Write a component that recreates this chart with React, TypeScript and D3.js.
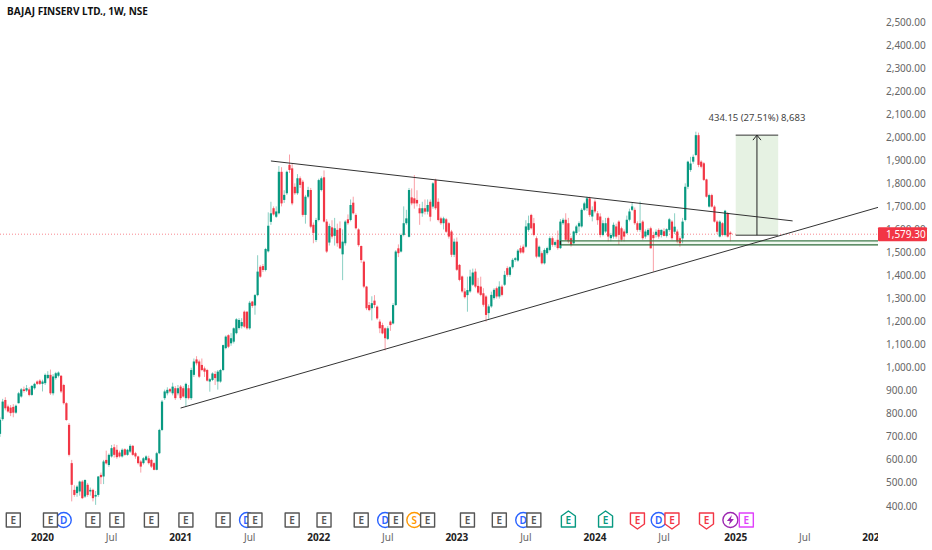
import React from "react";
import * as d3 from "d3";

const WIDTH = 932;
const HEIGHT = 550;
const PLOT_RIGHT = 878;

const UP = "#089981";
const DOWN = "#f23645";

// weekly bars as [open, high, low, close]
const candles2019 = [
  [713, 785, 700, 774], [777, 865, 770, 853], [860, 872, 815, 824], [832, 840, 805, 810],
  [827, 838, 790, 803], [830, 842, 785, 805], [805, 840, 800, 835], [846, 895, 845, 889],
  [875, 912, 870, 906], [906, 918, 892, 899], [901, 925, 895, 911], [906, 915, 876, 882],
  [882, 925, 878, 921], [911, 935, 905, 930], [940, 945, 925, 930], [944, 950, 925, 930],
];
const candles2020 = [
  [930, 948, 897, 940], [933, 975, 925, 969], [955, 985, 950, 969], [969, 992, 882, 889],
  [889, 972, 880, 962], [955, 982, 948, 976], [965, 984, 958, 979], [965, 968, 890, 897],
  [925, 930, 840, 846], [846, 850, 770, 773], [752, 760, 615, 622], [586, 600, 420, 492],
  [470, 490, 440, 448], [456, 490, 440, 484], [463, 510, 445, 506], [506, 512, 430, 434],
  [441, 515, 435, 513], [492, 500, 440, 448], [463, 480, 445, 470], [470, 475, 420, 434],
  [441, 465, 405, 448], [448, 530, 440, 528], [535, 545, 495, 525], [528, 600, 495, 593],
  [600, 640, 580, 585], [578, 628, 570, 622], [615, 665, 610, 651], [655, 668, 610, 622],
  [644, 665, 605, 612], [632, 640, 610, 615], [615, 650, 610, 644], [646, 650, 618, 622],
  [622, 648, 618, 644], [636, 668, 630, 661], [661, 665, 618, 622], [629, 635, 605, 615],
  [615, 618, 580, 586], [593, 600, 545, 571], [586, 612, 580, 607], [600, 620, 595, 615],
  [607, 618, 580, 586], [600, 605, 565, 571], [586, 590, 555, 557], [557, 635, 555, 629],
  [629, 735, 625, 730], [730, 860, 725, 853], [868, 905, 860, 897], [889, 915, 880, 904],
  [907, 912, 890, 897], [889, 935, 880, 918], [911, 920, 860, 868], [889, 925, 880, 911],
];
const candles2021 = [
  [918, 925, 860, 868], [911, 920, 870, 875], [868, 935, 830, 930], [911, 925, 862, 868],
  [868, 1000, 860, 990], [969, 1040, 960, 1027], [1036, 1050, 1010, 1019], [1027, 1035, 955, 961],
  [1012, 1040, 985, 990], [997, 1005, 960, 983], [990, 995, 940, 944], [940, 955, 896, 950],
  [947, 980, 942, 975], [973, 985, 925, 955], [940, 990, 905, 983], [940, 995, 935, 990],
  [990, 1100, 985, 1098], [1085, 1140, 1080, 1135], [1141, 1145, 1085, 1091], [1106, 1150, 1095, 1128],
  [1113, 1175, 1105, 1171], [1150, 1215, 1145, 1210], [1172, 1215, 1165, 1207], [1180, 1215, 1170, 1198],
  [1243, 1248, 1172, 1178], [1243, 1245, 1165, 1171], [1171, 1290, 1165, 1282], [1287, 1290, 1260, 1268],
  [1270, 1320, 1230, 1315], [1315, 1488, 1310, 1417], [1438, 1445, 1390, 1395], [1441, 1450, 1415, 1424],
  [1424, 1520, 1418, 1515], [1505, 1674, 1500, 1616], [1633, 1720, 1620, 1670], [1692, 1700, 1660, 1665],
  [1655, 1700, 1650, 1678], [1670, 1875, 1665, 1850], [1850, 1870, 1700, 1713], [1728, 1770, 1715, 1750],
  [1757, 1855, 1750, 1850], [1880, 1925, 1845, 1858], [1865, 1888, 1705, 1713], [1785, 1800, 1750, 1757],
  [1757, 1840, 1750, 1822], [1822, 1830, 1780, 1793], [1807, 1815, 1655, 1663], [1663, 1750, 1625, 1742],
  [1742, 1785, 1735, 1771], [1771, 1780, 1605, 1612], [1620, 1630, 1540, 1585], [1554, 1650, 1545, 1641],
];
const candles2022 = [
  [1641, 1820, 1635, 1814], [1771, 1830, 1765, 1822], [1826, 1856, 1630, 1634], [1634, 1645, 1498, 1504],
  [1543, 1625, 1530, 1615], [1609, 1640, 1560, 1569], [1572, 1650, 1530, 1605], [1598, 1625, 1525, 1540],
  [1605, 1635, 1515, 1518], [1492, 1600, 1380, 1547], [1540, 1640, 1530, 1634], [1644, 1665, 1620, 1627],
  [1641, 1730, 1635, 1706], [1716, 1742, 1665, 1670], [1663, 1670, 1600, 1605], [1600, 1605, 1525, 1532],
  [1528, 1530, 1455, 1467], [1460, 1465, 1345, 1352], [1352, 1355, 1250, 1258], [1272, 1285, 1245, 1250],
  [1258, 1310, 1205, 1280], [1291, 1315, 1260, 1272], [1265, 1270, 1208, 1214], [1200, 1210, 1150, 1171],
  [1185, 1195, 1145, 1149], [1171, 1175, 1075, 1128], [1125, 1180, 1120, 1171], [1200, 1205, 1160, 1185],
  [1192, 1280, 1188, 1272], [1272, 1510, 1268, 1504], [1518, 1535, 1480, 1497], [1504, 1582, 1500, 1576],
  [1576, 1700, 1570, 1627], [1627, 1685, 1620, 1648], [1568, 1780, 1565, 1771], [1739, 1778, 1705, 1713],
  [1735, 1836, 1690, 1713], [1728, 1770, 1700, 1713], [1692, 1710, 1620, 1670], [1670, 1720, 1655, 1692],
  [1692, 1730, 1665, 1677], [1677, 1730, 1665, 1706], [1720, 1730, 1635, 1655], [1699, 1805, 1690, 1800],
  [1814, 1820, 1685, 1692], [1720, 1735, 1635, 1641], [1648, 1655, 1620, 1627], [1627, 1655, 1600, 1648],
  [1644, 1650, 1585, 1590], [1627, 1632, 1560, 1569], [1591, 1598, 1480, 1490], [1490, 1560, 1480, 1547],
];
const candles2023 = [
  [1547, 1565, 1420, 1425], [1446, 1450, 1375, 1381], [1396, 1400, 1325, 1331], [1331, 1345, 1300, 1306],
  [1315, 1395, 1243, 1337], [1331, 1425, 1325, 1396], [1360, 1430, 1355, 1413], [1417, 1430, 1345, 1352],
  [1355, 1390, 1320, 1326], [1352, 1395, 1310, 1316], [1323, 1345, 1265, 1273], [1309, 1315, 1200, 1229],
  [1237, 1275, 1212, 1266], [1266, 1330, 1260, 1316], [1302, 1345, 1295, 1338], [1345, 1352, 1300, 1309],
  [1309, 1375, 1300, 1352], [1352, 1360, 1310, 1316], [1360, 1420, 1355, 1403], [1432, 1440, 1395, 1403],
  [1403, 1440, 1395, 1436], [1436, 1475, 1430, 1468], [1468, 1480, 1460, 1475], [1465, 1515, 1460, 1508],
  [1519, 1530, 1495, 1500], [1525, 1535, 1495, 1500], [1525, 1640, 1520, 1613], [1598, 1660, 1590, 1627],
  [1663, 1668, 1600, 1605], [1627, 1650, 1570, 1576], [1562, 1570, 1475, 1482], [1482, 1530, 1478, 1525],
  [1497, 1505, 1448, 1453], [1453, 1518, 1448, 1511], [1497, 1525, 1490, 1519], [1511, 1570, 1505, 1562],
  [1562, 1570, 1525, 1533], [1533, 1552, 1525, 1545], [1555, 1595, 1512, 1519], [1519, 1645, 1515, 1634],
  [1627, 1650, 1620, 1642], [1642, 1670, 1550, 1555], [1627, 1650, 1540, 1548], [1562, 1570, 1525, 1533],
  [1540, 1595, 1535, 1591], [1584, 1620, 1575, 1613], [1613, 1635, 1590, 1627], [1613, 1692, 1608, 1685],
  [1685, 1720, 1680, 1713], [1692, 1742, 1680, 1735], [1735, 1742, 1655, 1663], [1656, 1700, 1635, 1685],
];
const candles2024 = [
  [1721, 1730, 1670, 1678], [1670, 1680, 1620, 1640], [1656, 1670, 1565, 1576], [1576, 1640, 1570, 1627],
  [1591, 1650, 1585, 1627], [1649, 1655, 1548, 1569], [1562, 1585, 1548, 1576], [1569, 1630, 1560, 1620],
  [1613, 1625, 1560, 1569], [1634, 1640, 1533, 1576], [1605, 1612, 1548, 1555], [1591, 1600, 1548, 1569],
  [1584, 1660, 1580, 1642], [1642, 1690, 1635, 1678], [1685, 1715, 1680, 1700], [1685, 1695, 1620, 1627],
  [1627, 1635, 1590, 1598], [1598, 1721, 1590, 1627], [1634, 1640, 1555, 1562], [1569, 1600, 1560, 1591],
  [1576, 1605, 1570, 1598], [1605, 1612, 1518, 1518], [1576, 1590, 1417, 1562], [1576, 1600, 1565, 1590],
  [1598, 1605, 1560, 1569], [1576, 1600, 1565, 1598], [1592, 1605, 1570, 1572], [1572, 1605, 1565, 1601],
  [1598, 1650, 1590, 1644], [1634, 1640, 1555, 1562], [1590, 1670, 1580, 1612], [1591, 1600, 1540, 1548],
  [1562, 1570, 1525, 1540], [1561, 1650, 1540, 1634], [1641, 1800, 1635, 1785], [1785, 1898, 1775, 1894],
  [1858, 1915, 1850, 1886], [1894, 1925, 1885, 1915], [1923, 2024, 1918, 2009], [2009, 2020, 1870, 1880],
  [1894, 1900, 1865, 1872], [1887, 1892, 1810, 1815], [1817, 1820, 1738, 1742], [1699, 1755, 1695, 1749],
  [1749, 1755, 1695, 1699], [1699, 1705, 1630, 1634], [1634, 1640, 1580, 1590], [1569, 1640, 1565, 1634],
  [1627, 1632, 1570, 1576], [1576, 1685, 1570, 1681], [1670, 1675, 1565, 1569], [1586, 1592, 1548, 1579.3],
];

const firstWeek = new Date(2019, 8, 16);
const lastPrice = 1579.3;
const priceTicks = [
  400, 500, 600, 700, 800, 900, 1000, 1100, 1200, 1300, 1400, 1500, 1600, 1700, 1800, 1900, 2000,
  2100, 2200, 2300, 2400, 2500,
];
const timeLabels: [number, number, string][] = [
  [2020, 0, "2020"], [2020, 6, "Jul"], [2021, 0, "2021"], [2021, 6, "Jul"], [2022, 0, "2022"],
  [2022, 6, "Jul"], [2023, 0, "2023"], [2023, 6, "Jul"], [2024, 0, "2024"], [2024, 6, "Jul"],
  [2025, 0, "2025"], [2025, 6, "Jul"], [2026, 0, "2026"],
];

// chart events, by week number counted from the first bar
const earningsPlain = [5, 19, 35, 44, 57, 70, 84, 96, 110, 122, 136, 149, 161, 176, 188, 201];
const earningsBeat = [214, 228];
const earningsMiss = [240, 253, 266];
const earningsNext = [281];
const dividends = [24, 93, 145, 197, 248];
const splits = [156];
const newsFlags = [275];

// drawings: [date, price]
const upperTrend: [Date, number][] = [[new Date(2021, 7, 30), 1897], [new Date(2025, 5, 5), 1637]];
const lowerTrend: [Date, number][] = [[new Date(2021, 0, 4), 825], [new Date(2026, 0, 19), 1697]];
const supportZone = { start: new Date(2023, 9, 2), top: 1550, bottom: 1533 };
const longStart = new Date(2025, 0, 6);
const longEnd = new Date(2025, 3, 28);
const longEntry = 1575;
const longTarget = 2009.15;

const candles = [
  ...candles2019, ...candles2020, ...candles2021, ...candles2022, ...candles2023, ...candles2024,
];

const weekDate = (i: number) => d3.timeWeek.offset(firstWeek, i);

const x = d3
  .scaleTime()
  .domain([new Date(2020, 0, 6), new Date(2025, 0, 6)])
  .range([42.5, 735.7]);
const y = d3.scaleLinear().domain([400, 2500]).range([506, 22]);

const priceFormat = d3.format(",.2f");
const trendLine = d3
  .line<[Date, number]>()
  .x((d) => x(d[0]))
  .y((d) => y(d[1]));

const FONT = "'Noto Sans', 'Open Sans', sans-serif";

function EarningsBadge({ week, color, shape }: { week: number; color: string; shape: string }) {
  const cx = x(weekDate(week));
  const s = 7;
  let d = `M${-s},${-s}H${s}V${s}H${-s}Z`;
  if (shape === "up") d = `M${-s},${-s + 3}L0,${-s - 2}L${s},${-s + 3}V${s}H${-s}Z`;
  if (shape === "down") d = `M${-s},${-s}H${s}V${s - 3}L0,${s + 2}L${-s},${s - 3}Z`;
  return (
    <g transform={`translate(${cx},520)`}>
      <path d={d} fill="#fff" stroke={color} strokeWidth={1.4} strokeLinejoin="round" />
      <text y={3.5} textAnchor="middle" fontSize={10} fontWeight={600} fill={color}>
        E
      </text>
    </g>
  );
}

function RoundBadge({ week, color, label }: { week: number; color: string; label: string }) {
  return (
    <g transform={`translate(${x(weekDate(week))},520)`}>
      <circle r={7.5} fill="#fff" stroke={color} strokeWidth={1.4} />
      {label ? (
        <text y={3.5} textAnchor="middle" fontSize={10} fontWeight={600} fill={color}>
          {label}
        </text>
      ) : (
        <path d="M1.5,-5L-3.5,1H-0.5L-1.5,5L3.5,-1H0.5Z" fill={color} />
      )}
    </g>
  );
}

export default function App() {
  const midX = (x(longStart) + x(longEnd)) / 2;
  return (
    <svg
      width={WIDTH}
      height={HEIGHT}
      viewBox={`0 0 ${WIDTH} ${HEIGHT}`}
      style={{ position: "absolute", left: 0, top: 0, background: "#fff" }}
      fontFamily={FONT}
    >
      <defs>
        <clipPath id="plot">
          <rect x={0} y={0} width={PLOT_RIGHT} height={HEIGHT} />
        </clipPath>
      </defs>

      <g clipPath="url(#plot)">
        <line
          x1={0}
          x2={PLOT_RIGHT}
          y1={y(lastPrice)}
          y2={y(lastPrice)}
          stroke={DOWN}
          strokeOpacity={0.6}
          strokeDasharray="1 2"
        />

        {/* long position box */}
        <rect
          x={x(longStart)}
          y={y(longTarget)}
          width={x(longEnd) - x(longStart)}
          height={y(longEntry) - y(longTarget)}
          fill="#e6f2e3"
        />
        <line x1={x(longStart)} x2={x(longEnd)} y1={y(longTarget)} y2={y(longTarget)} stroke="#333" strokeWidth={1} />
        <line x1={x(longStart)} x2={x(longEnd)} y1={y(longEntry)} y2={y(longEntry)} stroke="#333" strokeWidth={1} />

        {candles.map((c, i) => {
          const [open, high, low, close] = c;
          const cx = x(weekDate(i));
          const color = close >= open ? UP : DOWN;
          const top = y(Math.max(open, close));
          const h = Math.max(1, Math.abs(y(open) - y(close)));
          return (
            <g key={i} fill={color} stroke={color}>
              <line x1={cx} x2={cx} y1={y(high)} y2={y(low)} strokeWidth={0.8} strokeOpacity={0.6} />
              <rect x={cx - 1.1} y={top} width={2.2} height={h} stroke="none" />
            </g>
          );
        })}

        {/* support zone */}
        <rect
          x={x(supportZone.start)}
          width={PLOT_RIGHT - x(supportZone.start)}
          y={y(supportZone.top)}
          height={y(supportZone.bottom) - y(supportZone.top)}
          fill="#4caf50"
          fillOpacity={0.08}
        />
        <line x1={x(supportZone.start)} x2={PLOT_RIGHT} y1={y(supportZone.top)} y2={y(supportZone.top)} stroke="#3f7a4a" strokeWidth={1.3} />
        <line x1={x(supportZone.start)} x2={PLOT_RIGHT} y1={y(supportZone.bottom)} y2={y(supportZone.bottom)} stroke="#2f6b3a" strokeWidth={1.3} />
        <line x1={x(supportZone.start)} x2={x(supportZone.start)} y1={y(supportZone.top)} y2={y(supportZone.bottom)} stroke="#222" strokeWidth={1.2} />

        <path d={trendLine(upperTrend) ?? ""} fill="none" stroke="#333" strokeWidth={1} />
        <path d={trendLine(lowerTrend) ?? ""} fill="none" stroke="#333" strokeWidth={1} />

        {/* arrow of the long position */}
        <line x1={midX} x2={midX} y1={y(longEntry)} y2={y(longTarget)} stroke="#222" strokeWidth={1} />
        <path
          d={`M${midX - 4},${y(longTarget) + 5}L${midX},${y(longTarget)}L${midX + 4},${y(longTarget) + 5}`}
          fill="none"
          stroke="#222"
          strokeWidth={1}
        />
        <text x={midX} y={y(longTarget) - 14} textAnchor="middle" fontSize={9.5} fill="#444">
          434.15 (27.51%) 8,683
        </text>

        {dividends.map((w) => (
          <RoundBadge key={w} week={w} color="#2962ff" label="D" />
        ))}
        {splits.map((w) => (
          <RoundBadge key={w} week={w} color="#ff9800" label="S" />
        ))}
        {newsFlags.map((w) => (
          <RoundBadge key={w} week={w} color="#9c27b0" label="" />
        ))}
        {earningsPlain.map((w) => (
          <EarningsBadge key={w} week={w} color="#555" shape="box" />
        ))}
        {earningsBeat.map((w) => (
          <EarningsBadge key={w} week={w} color={UP} shape="up" />
        ))}
        {earningsMiss.map((w) => (
          <EarningsBadge key={w} week={w} color={DOWN} shape="down" />
        ))}
        {earningsNext.map((w) => (
          <EarningsBadge key={w} week={w} color="#e040fb" shape="box" />
        ))}

        {timeLabels.map(([yr, mo, label]) => (
          <text
            key={`${yr}-${mo}`}
            x={x(d3.timeMonday.ceil(new Date(yr, mo, 1)))}
            y={541}
            textAnchor="middle"
            fontSize={10}
            fontWeight={mo === 0 ? 700 : 400}
            fill={mo === 0 ? "#222" : "#666"}
          >
            {label}
          </text>
        ))}
      </g>

      {priceTicks.map((t) => (
        <text key={t} x={886} y={y(t) + 3.5} fontSize={10} fill="#666">
          {priceFormat(t)}
        </text>
      ))}

      <rect x={PLOT_RIGHT} y={y(lastPrice) - 7} width={49} height={14} rx={1} fill={DOWN} />
      <text x={886} y={y(lastPrice) + 3.5} fontSize={10} fill="#fff">
        {priceFormat(lastPrice)}
      </text>

      <text x={7} y={15} fontSize={10} fontWeight={700} fill="#111">
        BAJAJ FINSERV LTD., 1W, NSE
      </text>
    </svg>
  );
}
